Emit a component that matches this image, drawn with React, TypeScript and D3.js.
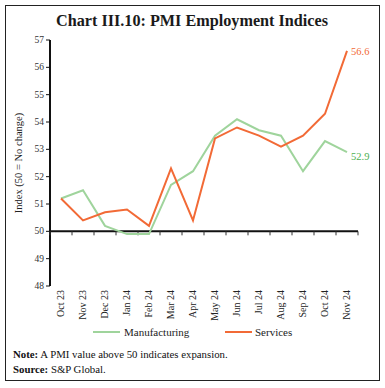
import React from 'react';
import * as d3 from 'd3';

const months = ['Oct 23', 'Nov 23', 'Dec 23', 'Jan 24', 'Feb 24', 'Mar 24', 'Apr 24', 'May 24', 'Jun 24', 'Jul 24', 'Aug 24', 'Sep 24', 'Oct 24', 'Nov 24'];
const manufacturing = [51.2, 51.5, 50.2, 49.9, 49.9, 51.7, 52.2, 53.5, 54.1, 53.7, 53.5, 52.2, 53.3, 52.9];
const services = [51.2, 50.4, 50.7, 50.8, 50.2, 52.3, 50.4, 53.4, 53.8, 53.5, 53.1, 53.5, 54.3, 56.6];
const yTicks = [48, 49, 50, 51, 52, 53, 54, 55, 56, 57];

const GREEN = '#9fd49c';
const GREEN_TXT = '#4caf50';
const ORANGE = '#f26a36';
const FONT = '"Liberation Serif", "Times New Roman", serif';

const App: React.FC = () => {
  const x = d3.scaleBand<string>().domain(months).range([50, 358]).padding(0);
  const y = d3.scaleLinear().domain([48, 57]).range([286, 40]);
  const cx = (m: string) => (x(m) as number) + x.bandwidth() / 2;

  const line = d3.line<number>()
    .x((_, i) => cx(months[i]))
    .y((d) => y(d));

  const last = months.length - 1;
  const bounds = months.map((m) => x(m) as number).concat([358]);

  return (
    <svg width={385} height={388} style={{ position: 'absolute', left: 0, top: 0 }} fontFamily={FONT}>
      <rect x={5.5} y={5.5} width={374} height={375} fill="white" stroke="#222" strokeWidth={1} />
      <text x={192} y={26} textAnchor="middle" fontSize={16.2} fontWeight="bold" fill="#1a1a1a">
        Chart III.10: PMI Employment Indices
      </text>

      {/* y axis */}
      <line x1={50} x2={50} y1={y(57)} y2={y(48)} stroke="#111" strokeWidth={2} />
      {yTicks.map((t) => (
        <g key={t}>
          <line x1={46} x2={50} y1={y(t)} y2={y(t)} stroke="#111" strokeWidth={1} />
          <text x={44} y={y(t)} dy="0.32em" textAnchor="end" fontSize={9.5} fill="#333">{t}</text>
        </g>
      ))}
      <text transform={`translate(22, ${y(52.5)}) rotate(-90)`} textAnchor="middle" fontSize={10.5} fill="#222">
        Index (50 = No change)
      </text>

      {/* x axis at 50 */}
      <line x1={50} x2={358} y1={y(50)} y2={y(50)} stroke="#111" strokeWidth={2} />
      {bounds.map((b, i) => (
        <line key={i} x1={b} x2={b} y1={y(50)} y2={y(50) + 4} stroke="#333" strokeWidth={1} />
      ))}
      {months.map((m) => (
        <text key={m} transform={`translate(${cx(m)}, 290) rotate(-90)`} dy="0.32em" textAnchor="end" fontSize={10} fill="#222">
          {m}
        </text>
      ))}

      <path d={line(manufacturing) || ''} fill="none" stroke={GREEN} strokeWidth={2} />
      <path d={line(services) || ''} fill="none" stroke={ORANGE} strokeWidth={2} />

      <text x={cx(months[last]) + 4} y={y(services[last]) + 1} dy="0.32em" fontSize={10.5} fill={ORANGE}>
        {services[last]}
      </text>
      <text x={cx(months[last]) + 4} y={y(manufacturing[last]) + 5} dy="0.32em" fontSize={10.5} fill={GREEN_TXT}>
        {manufacturing[last]}
      </text>

      {/* legend */}
      <line x1={93} x2={120} y1={332} y2={332} stroke={GREEN} strokeWidth={2} />
      <text x={124} y={332} dy="0.32em" fontSize={11} fill="#222">Manufacturing</text>
      <line x1={225} x2={252} y1={332} y2={332} stroke={ORANGE} strokeWidth={2} />
      <text x={255} y={332} dy="0.32em" fontSize={11} fill="#222">Services</text>

      <text x={13} y={358} fontSize={10.8} fill="#111">
        <tspan fontWeight="bold">Note:</tspan> A PMI value above 50 indicates expansion.
      </text>
      <text x={13} y={373} fontSize={10.8} fill="#111">
        <tspan fontWeight="bold">Source:</tspan> S&amp;P Global.
      </text>
    </svg>
  );
};

export default App;
